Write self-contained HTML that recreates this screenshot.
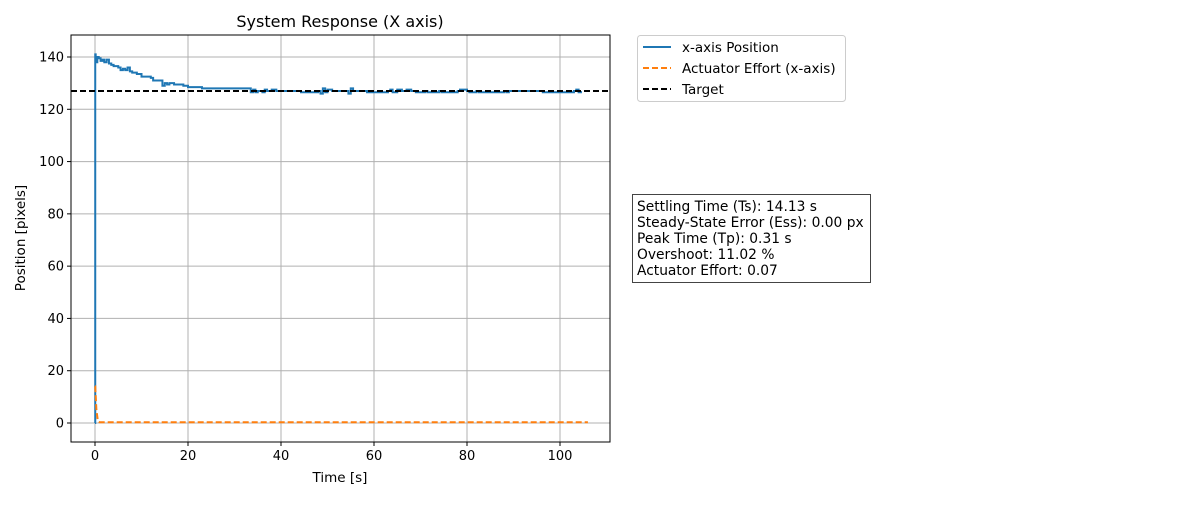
<!DOCTYPE html>
<html><head><meta charset="utf-8"><style>
body{margin:0;background:#fff;width:1200px;height:500px;overflow:hidden}
svg text{font-family:"DejaVu Sans","Liberation Sans",sans-serif;fill:#000}
</style></head><body>
<svg id="chart" width="1200" height="500">
<rect x="0" y="0" width="1200" height="500" fill="#fff"/>
<g id="grid"></g>
<g id="series"></g>
<rect x="71" y="35" width="539" height="407" fill="none" stroke="#000" stroke-width="1"/>
<g id="axes"></g>
<text x="340" y="27" text-anchor="middle" font-size="16">System Response (X axis)</text>
<text x="340" y="482" text-anchor="middle" font-size="13.5">Time [s]</text>
<text transform="translate(25,238) rotate(-90)" text-anchor="middle" font-size="13.5">Position [pixels]</text>
<g>
<rect x="637.5" y="35.5" width="208" height="66" rx="3" fill="#fff" stroke="#ccc"/>
<line x1="643" y1="47" x2="671" y2="47" stroke="#1f77b4" stroke-width="2"/>
<text x="682" y="52" font-size="13.5">x-axis Position</text>
<line x1="643" y1="68" x2="671" y2="68" stroke="#ff7f0e" stroke-width="2" stroke-dasharray="6,3"/>
<text x="682" y="73" font-size="13.5">Actuator Effort (x-axis)</text>
<line x1="643" y1="89" x2="671" y2="89" stroke="#000" stroke-width="2" stroke-dasharray="6,3"/>
<text x="682" y="94" font-size="13.5">Target</text>
</g>
<g>
<rect x="632.5" y="194.5" width="238" height="88" fill="#fff" stroke="#444"/>
<text x="637" y="211" font-size="13.8">Settling Time (Ts): 14.13 s</text>
<text x="637" y="227" font-size="13.8">Steady-State Error (Ess): 0.00 px</text>
<text x="637" y="243" font-size="13.8">Peak Time (Tp): 0.31 s</text>
<text x="637" y="259" font-size="13.8">Overshoot: 11.02 %</text>
<text x="637" y="275" font-size="13.8">Actuator Effort: 0.07</text>
</g>
</svg>
<script>
const xTicks=[0,20,40,60,80,100];
const yTicks=[0,20,40,60,80,100,120,140];
const target=127;
const posT=[0,0.05,0.15,0.3,0.5,0.8,1.2,1.6,2,2.5,3,3.5,4,5,5.5,6,6.5,7,7.5,8,9,10,11,12,12.5,14,14.5,15,15.5,16,17,18,19,20,21,22,23,24,26,30,33,33.5,34,34.5,35,36,36.5,37,38,39,44,44.3,48,48.5,49,49.5,50,51,54,54.5,55,55.5,58,58.5,63,63.5,64,65,66,67,68,69,71,71.5,74,74.5,78,78.5,80,80.5,82,82.5,88,88.5,89,96,96.3,103,103.5,104,104.5];
const posV=[0,141,139,138,140,139.5,138.5,139,138,139,137.5,137,136.5,136,135,135.5,135,136,134.5,134,133.5,132.5,132.5,132,131,131,129,130,129.5,130,129.5,129.5,129,128.5,128.5,128.5,128,128,128,128,128,126.5,127.5,126.5,127,126.5,127.5,127,127.5,127,127,126.5,127,126,128,126.5,127.5,127,127,126,128,127,127,126.5,127,127.5,126.5,127.5,127,127.5,127,126.5,127,126.5,127,126.5,127,127.5,127,126.5,127,126.5,127,126.5,127,127,126.5,127,127.5,126.5,127];
const actT=[0,0.05,0.3,0.6,1,106];
const actV=[14,14,5,1,0.3,0.3];
const X=v=>95+(v-0)*(560-95)/100;
const Y=v=>423-v*(423-57)/140;
const ns="http://www.w3.org/2000/svg";
function mk(p,tag,a){const e=document.createElementNS(ns,tag);for(const k in a)e.setAttribute(k,a[k]);p.appendChild(e);return e;}
const grid=document.getElementById('grid'),axes=document.getElementById('axes'),ser=document.getElementById('series');
xTicks.forEach(t=>{const x=X(t);
 const g=mk(grid,'line',{x1:x,y1:35,x2:x,y2:442,stroke:'#b0b0b0','stroke-width':1});
 
 
 mk(axes,'line',{x1:x,y1:442,x2:x,y2:446,stroke:'#000','stroke-width':1});
 const tx=mk(axes,'text',{x:x,y:460,'text-anchor':'middle','font-size':13});tx.textContent=t;
 
 });
yTicks.forEach(t=>{const y=Y(t);
 const g=mk(grid,'line',{x1:71,y1:y,x2:610,y2:y,stroke:'#b0b0b0','stroke-width':1});
 
 
 mk(axes,'line',{x1:67,y1:y,x2:71,y2:y,stroke:'#000','stroke-width':1});
 const tx=mk(axes,'text',{x:64,y:y+4.5,'text-anchor':'end','font-size':13});tx.textContent=t;
 
 });
function stepPath(T,V){let d='M'+X(T[0])+','+Y(V[0]);for(let i=1;i<T.length;i++){d+=' L'+X(T[i])+','+Y(V[i-1])+' L'+X(T[i])+','+Y(V[i]);}return d;}
function linePath(T,V){return T.map((t,i)=>(i?'L':'M')+X(t)+','+Y(V[i])).join(' ');}
const p=mk(ser,'path',{d:stepPath(posT,posV),fill:'none',stroke:'#1f77b4','stroke-width':2});


const a=mk(ser,'path',{d:linePath(actT,actV),fill:'none',stroke:'#ff7f0e','stroke-width':2,'stroke-dasharray':'6,3'});


const tl=mk(ser,'line',{x1:71,y1:Y(target),x2:610,y2:Y(target),stroke:'#000','stroke-width':2,'stroke-dasharray':'6,3'});


</script>
</body></html>
